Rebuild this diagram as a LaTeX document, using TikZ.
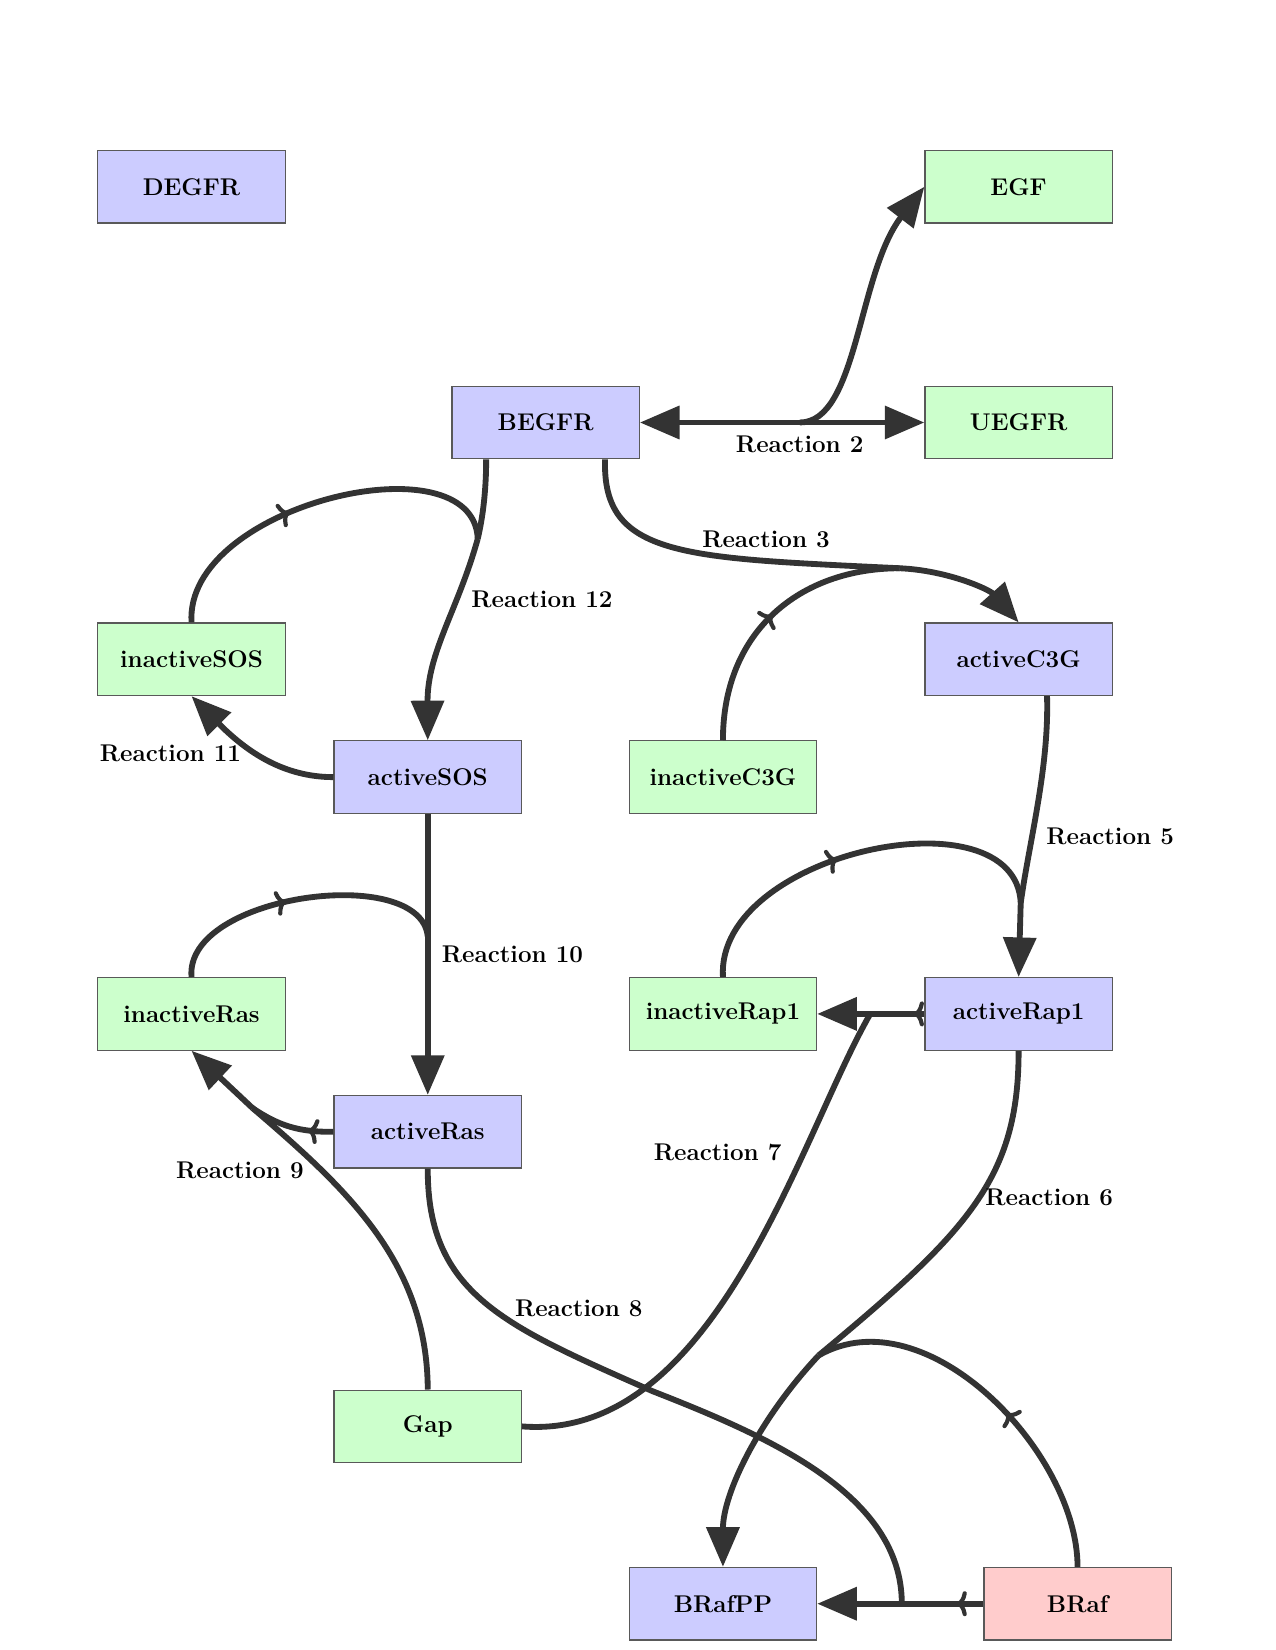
\documentclass[tikz,border=0pt]{standalone}
\usetikzlibrary{arrows.meta,decorations.markings,calc}
\definecolor{bluebox}{RGB}{204,204,255}
\definecolor{greenbox}{RGB}{204,255,204}
\definecolor{redbox}{RGB}{255,204,204}
\definecolor{edgecol}{RGB}{51,51,51}
\tikzset{
  box/.style={draw=black!65, line width=0.6pt, minimum width=89.9pt, minimum height=34.8pt,
    inner sep=0pt, font=\fontsize{11.6}{14}\selectfont\bfseries},
  bluen/.style={box, fill=bluebox},
  greenn/.style={box, fill=greenbox},
  redn/.style={box, fill=redbox},
  rx/.style={draw=edgecol, line width=2.8pt},
  prod/.style={rx, -{Triangle[length=19pt,width=15.5pt]}},
  lbl/.style={font=\fontsize{11.6}{14}\selectfont\bfseries, inner sep=0pt},
  tipat/.style={postaction={decorate}, decoration={markings,
    mark=at position #1 with {\arrow{To[length=5pt,width=12pt,line width=2pt]}}}},
}
\begin{document}
\begin{tikzpicture}[x=0.505pt, y=-0.505pt]
\fill[white] (0,0) rectangle (1212,1568);
\useasboundingbox (0,0) rectangle (1212,1568);
% nodes
\node[bluen]  (DEGFR)        at (182,177.5)  {DEGFR};
\node[greenn] (EGF)          at (968,177.5)  {EGF};
\node[bluen]  (BEGFR)        at (518.5,401.5){BEGFR};
\node[greenn] (UEGFR)        at (968,401.5)  {UEGFR};
\node[greenn] (inactiveSOS)  at (182,626.5)  {inactiveSOS};
\node[bluen]  (activeC3G)    at (968,626.5)  {activeC3G};
\node[bluen]  (activeSOS)    at (406.5,738.5){activeSOS};
\node[greenn] (inactiveC3G)  at (687,738.5)  {inactiveC3G};
\node[greenn] (inactiveRas)  at (182,963.5)  {inactiveRas};
\node[greenn] (inactiveRap1) at (687,963.5)  {inactiveRap1};
\node[bluen]  (activeRap1)   at (968,963.5)  {activeRap1};
\node[bluen]  (activeRas)    at (406.5,1075.5){activeRas};
\node[greenn] (Gap)          at (406.5,1355.5){Gap};
\node[bluen]  (BRafPP)       at (687,1524)   {BRafPP};
\node[redn]   (BRaf)         at (1024,1524)  {BRaf};
% reaction centres
\coordinate (c2) at (760,401.5);
\coordinate (c3) at (855,540);
\coordinate (c12) at (454,512);
\coordinate (c10) at (406.5,890);
\coordinate (c9) at (240,1053);
\coordinate (c5) at (970,858);
\coordinate (c7) at (827,963.5);
\coordinate (c6) at (778,1288);
\coordinate (c8) at (857,1524);
\coordinate (b12) at ($(BEGFR.south)+(-56.5,0)$);
\coordinate (b3) at ($(BEGFR.south)+(56.5,0)$);
\coordinate (a5) at ($(activeC3G.south)+(27,0)$);
% Reaction 2
\draw[prod] (c2) -- (BEGFR.east);
\draw[prod] (c2) -- (UEGFR.west);
\draw[prod] (c2) .. controls (815,401.5) and (815,260) .. (EGF.west);
\node[lbl] (r2) at (760,422) {Reaction 2};
% Reaction 3
\draw[rx] (b3) .. controls (572,530) and (650,530) .. (c3);
\draw[rx, tipat=0.5] (inactiveC3G.north) .. controls (687,600) and (760,540) .. (c3);
\draw[prod] (c3) .. controls (900,542) and (940,560) .. (activeC3G.north);
\node[lbl] (r3) at (728,513) {Reaction 3};
% Reaction 12
\draw[rx] (b12) .. controls (462,470) and (458,495) .. (c12);
\draw[rx, tipat=0.42] (inactiveSOS.north) .. controls (175,480) and (450,415) .. (c12);
\draw[prod] (c12) .. controls (435,580) and (406,620) .. (activeSOS.north);
\node[lbl] (r12) at (515,570) {Reaction 12};
% Reaction 11
\draw[prod] (activeSOS.west) .. controls (270,738.5) and (235,715) .. (inactiveSOS.south);
\node[lbl] (r11) at (162,716) {Reaction 11};
% Reaction 10
\draw[prod] (activeSOS.south) -- (activeRas.north);
\draw[rx, tipat=0.45] (inactiveRas.north) .. controls (175,850) and (400,820) .. (c10);
\node[lbl] (r10) at (487,907) {Reaction 10};
% Reaction 9
\draw[rx, tipat=0.3] (activeRas.west) .. controls (285,1076) and (265,1070) .. (c9);
\draw[rx] (Gap.north) .. controls (406,1200) and (330,1130) .. (c9);
\draw[prod] (c9) -- (inactiveRas.south);
\node[lbl] (r9) at (228,1112) {Reaction 9};
% Reaction 5
\draw[rx] (a5) .. controls (997,730) and (978,800) .. (c5);
\draw[rx, tipat=0.45] (inactiveRap1.north) .. controls (680,810) and (965,750) .. (c5);
\draw[prod] (c5) -- (activeRap1.north);
\node[lbl] (r5) at (1055,795) {Reaction 5};
% Reaction 7
\draw[rx, tipat=0.2] (activeRap1.west) -- (c7);
\draw[prod] (c7) -- (inactiveRap1.east);
\draw[rx] (Gap.east) .. controls (680,1370) and (760,1080) .. (c7);
\node[lbl] (r7) at (682,1095) {Reaction 7};
% Reaction 6
\draw[rx] (activeRap1.south) .. controls (968,1120) and (920,1170) .. (c6);
\draw[rx, tipat=0.45] (BRaf.north) .. controls (1024,1380) and (880,1230) .. (c6);
\draw[prod] (c6) .. controls (720,1350) and (687,1420) .. (BRafPP.north);
\node[lbl] (r6) at (997,1138) {Reaction 6};
% Reaction 8
\draw[rx, tipat=0.33] (BRaf.west) -- (c8);
\draw[prod] (c8) -- (BRafPP.east);
\draw[rx] (activeRas.south) .. controls (406,1230) and (480,1260) .. (620,1322)
  .. controls (730,1365) and (857,1420) .. (c8);
\node[lbl] (r8) at (550,1243) {Reaction 8};
\end{tikzpicture}
\end{document}
